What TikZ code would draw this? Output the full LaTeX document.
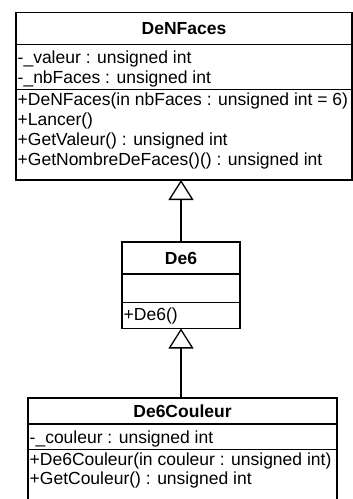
\documentclass[tikz,border=0pt]{standalone}
\usepackage{fontspec}
\setmainfont{Liberation Sans}
\usetikzlibrary{arrows.meta}
\tikzset{
  part/.style={draw, line width=1.3pt, anchor=north west, inner sep=0pt, outer sep=0pt},
  titlepart/.style={part, font=\fontsize{17.5}{20}\selectfont\bfseries},
  member/.style={anchor=base west, inner sep=0pt, font=\fontsize{17.5}{20}\selectfont},
  inherit/.style={line width=1.3pt, -{Triangle[open, length=20pt, width=25pt, line width=1.3pt]}},
}
\begin{document}
\begin{tikzpicture}[x=1pt, y=-1pt]
\useasboundingbox (0,0) rectangle (353,499);
\clip (0,0) rectangle (353,499);
% DeNFaces
\node[titlepart, minimum width=336pt, minimum height=32pt, text height=12.6pt, text depth=0pt] (nt) at (16,12.5) {DeNFaces};
\node[part, minimum width=336pt, minimum height=45pt] (na) at (16,44.5) {};
\node[part, minimum width=336pt, minimum height=90.5pt] (nm) at (16,89.5) {};
\node[member] (na1) at (17.5,63.5) {-\_valeur : unsigned int};
\node[member] (na2) at (17.5,83) {-\_nbFaces : unsigned int};
\node[member] (nm1) at (17.5,105) {+DeNFaces(in nbFaces : unsigned int = 6)};
\node[member] (nm2) at (17.5,125) {+Lancer()};
\node[member] (nm3) at (17.5,145) {+GetValeur() : unsigned int};
\node[member] (nm4) at (17.5,165) {+GetNombreDeFaces()() : unsigned int};
% De6
\node[titlepart, minimum width=118pt, minimum height=32pt, text height=12.6pt, text depth=0pt] (dt) at (122,242) {De6};
\node[part, minimum width=118pt, minimum height=28.5pt] (da) at (122,274) {};
\node[part, minimum width=118pt, minimum height=26pt] (dm) at (122,302.5) {};
\node[member] (dm1) at (123.5,320) {+De6()};
% De6Couleur
\node[titlepart, minimum width=309pt, minimum height=26pt, text height=12.6pt, text depth=0pt] (ct) at (28,398) {De6Couleur};
\node[part, minimum width=309pt, minimum height=25.5pt] (ca) at (28,424) {};
\node[part, minimum width=309pt, minimum height=70pt] (cm) at (28,449.5) {};
\node[member] (ca1) at (29.5,443) {-\_couleur : unsigned int};
\node[member] (cm1) at (29.5,465) {+De6Couleur(in couleur : unsigned int)};
\node[member] (cm2) at (29.5,484.5) {+GetCouleur() : unsigned int};
% inheritance
\draw[inherit] (dt.north) -- (dt.north |- nm.south);
\draw[inherit] (ct.north -| dm.south) -- (dm.south);
\end{tikzpicture}
\end{document}
